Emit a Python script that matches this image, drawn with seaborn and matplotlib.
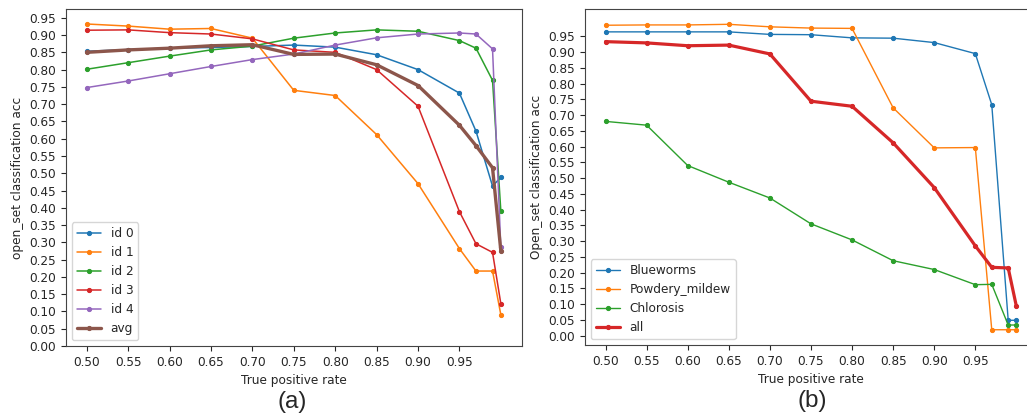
import numpy as np
import pandas as pd
import matplotlib
matplotlib.use("Agg")
import matplotlib.pyplot as plt
import seaborn as sns
from matplotlib.ticker import FormatStrFormatter

sns.set_style("ticks")
plt.rcParams['font.family'] = ['DejaVu Sans']
plt.rcParams['font.size'] = 8.7

# --- x values (true positive rate)
tpr = [0.50, 0.55, 0.60, 0.65, 0.70, 0.75, 0.80, 0.85, 0.90, 0.95, 0.97, 0.99, 1.00]

# --- panel (a): per-id accuracy
id0 = [0.853, 0.858, 0.862, 0.864, 0.867, 0.871, 0.865, 0.843, 0.800, 0.732, 0.622, 0.463, 0.488]
id1 = [0.932, 0.926, 0.917, 0.919, 0.891, 0.740, 0.725, 0.612, 0.470, 0.282, 0.217, 0.217, 0.091]
id2 = [0.801, 0.820, 0.839, 0.857, 0.868, 0.891, 0.906, 0.915, 0.911, 0.884, 0.862, 0.769, 0.392]
id3 = [0.914, 0.915, 0.907, 0.903, 0.889, 0.857, 0.850, 0.800, 0.694, 0.389, 0.296, 0.271, 0.123]
id4 = [0.748, 0.767, 0.788, 0.809, 0.829, 0.845, 0.871, 0.892, 0.903, 0.906, 0.903, 0.860, 0.286]
avg = [0.850, 0.857, 0.862, 0.869, 0.872, 0.844, 0.845, 0.814, 0.754, 0.639, 0.580, 0.516, 0.276]

# --- panel (b): per-class accuracy
blueworms = [0.964, 0.964, 0.964, 0.964, 0.956, 0.955, 0.945, 0.944, 0.930, 0.895, 0.733, 0.049, 0.049]
powdery = [0.985, 0.986, 0.986, 0.988, 0.980, 0.976, 0.975, 0.723, 0.596, 0.597, 0.019, 0.019, 0.019]
chlorosis = [0.680, 0.668, 0.540, 0.487, 0.437, 0.355, 0.304, 0.238, 0.210, 0.162, 0.163, 0.034, 0.034]
all_cls = [0.933, 0.929, 0.920, 0.922, 0.894, 0.744, 0.728, 0.612, 0.470, 0.285, 0.217, 0.215, 0.093]

ytick_vals = np.arange(0, 0.96, 0.05)
xtick_vals = np.arange(0.5, 0.96, 0.05)

fig = plt.figure(figsize=(10.27, 4.18), dpi=100)
ax_a = fig.add_axes([0.0643, 0.1722, 0.4435, 0.8051])
ax_b = fig.add_axes([0.5696, 0.1746, 0.4401, 0.8038])

pal = sns.color_palette("tab10")

# --- panel (a)
series_a = [("id 0", id0), ("id 1", id1), ("id 2", id2), ("id 3", id3), ("id 4", id4)]
for i, (name, vals) in enumerate(series_a):
    sns.lineplot(x=tpr, y=vals, ax=ax_a, color=pal[i], lw=1.1, marker='.',
                 markersize=6, mec=pal[i], label=name)
sns.lineplot(x=tpr, y=avg, ax=ax_a, color=pal[5], lw=2.4, marker='.',
             markersize=6, mec=pal[5], label="avg")
ax_a.set_ylim(0, 0.974)

# --- panel (b)
series_b = [("Blueworms", blueworms), ("Powdery_mildew", powdery), ("Chlorosis", chlorosis)]
for i, (name, vals) in enumerate(series_b):
    sns.lineplot(x=tpr, y=vals, ax=ax_b, color=pal[i], lw=1.0, marker='.',
                 markersize=6, mec=pal[i], label=name)
sns.lineplot(x=tpr, y=all_cls, ax=ax_b, color=pal[3], lw=2.3, marker='.',
             markersize=6, mec=pal[3], label="all")

for ax, ylab in [(ax_a, "open_set classification acc"), (ax_b, "Open_set classification acc")]:
    ax.set_xticks(xtick_vals)
    ax.set_yticks(ytick_vals)
    ax.xaxis.set_major_formatter(FormatStrFormatter('%.2f'))
    ax.yaxis.set_major_formatter(FormatStrFormatter('%.2f'))
    ax.set_xlabel("True positive rate")
    ax.set_ylabel(ylab)
    ax.legend(loc="lower left")
    for s in ax.spines.values():
        s.set_visible(True)
        s.set_color('#444444')

fig.text(291.7 / 1027, 1 - 401.7 / 418, "(a)", ha='center', va='center',
         fontsize=17.5, family='Liberation Sans')
fig.text(812.7 / 1027, 1 - 401.0 / 418, "(b)", ha='center', va='center',
         fontsize=17.5, family='Liberation Sans')

fig.savefig("out.png", dpi=100)
